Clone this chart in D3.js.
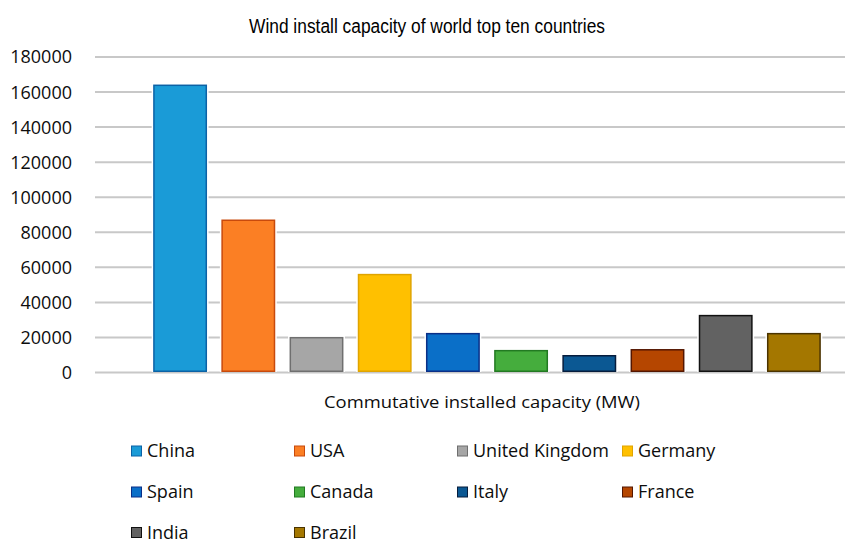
<!DOCTYPE html>
<html>
<head>
<meta charset="utf-8">
<script src="https://cdn.jsdelivr.net/npm/d3@7"></script>
<style>
  html, body { margin: 0; padding: 0; background: #fff; }
  svg { display: block; }
</style>
</head>
<body>
<svg id="chart" width="845" height="542"></svg>
<script>
//^^^^^^^^^^^^^^^^^^^^^^^^^^^^^^^^^^^^^^^^^^^^^^^^^^^^^^^^^^^^^^^^^^^^^^^^^^^^^^
// Data
//------------------------------------------------------------------------------
var countries = ["China", "USA", "United Kingdom", "Germany", "Spain",
                 "Canada", "Italy", "France", "India", "Brazil"];
var capacity = [164000, 87000, 20000, 56000, 22300,
                12600, 9700, 13100, 32600, 22300];
var yTicks = [0, 20000, 40000, 60000, 80000, 100000, 120000, 140000, 160000, 180000];
var fills = ["#1a9bd7", "#fb7f24", "#a6a6a6", "#ffc000", "#0a6fc8",
             "#45ad3d", "#0b5893", "#b54600", "#626262", "#a47700"];
var strokes = ["#0b62a6", "#c84a0c", "#6f6f6f", "#e0a400", "#0a2f87",
               "#227a22", "#061d3d", "#541600", "#111111", "#4a3300"];

var chartTitle = "Wind install capacity of world top ten countries",
    axisTitle = "Commutative installed capacity (MW)";

var svg = d3.select("#chart");

//^^^^^^^^^^^^^^^^^^^^^^^^^^^^^^^^^^^^^^^^^^^^^^^^^^^^^^^^^^^^^^^^^^^^^^^^^^^^^^
// Scales
//------------------------------------------------------------------------------
var x = d3.scaleBand()
    .domain(countries)
    .range([146, 828])
    .paddingInner(0.21)
    .paddingOuter(0.105);

var y = d3.scaleLinear()
    .domain([0, 180000])
    .range([372, 56.5]);

//^^^^^^^^^^^^^^^^^^^^^^^^^^^^^^^^^^^^^^^^^^^^^^^^^^^^^^^^^^^^^^^^^^^^^^^^^^^^^^
// Gridlines and tick labels
//------------------------------------------------------------------------------
var yAxis = svg.append("g")
    .attr("transform", "translate(95,0)")
    .call(d3.axisLeft(y).tickValues(yTicks).tickSize(-750).tickPadding(23)
        .tickFormat(d3.format("d")));

yAxis.select(".domain").remove();

yAxis.selectAll(".tick line")
    .attr("stroke", "#c8c8c8")
    .attr("stroke-width", 2);

yAxis.selectAll(".tick text")
    .attr("fill", "#0d0d0d")
    .attr("font-family", "'Open Sans', sans-serif")
    .attr("font-size", 18)
    .attr("dy", "0.36em");

//^^^^^^^^^^^^^^^^^^^^^^^^^^^^^^^^^^^^^^^^^^^^^^^^^^^^^^^^^^^^^^^^^^^^^^^^^^^^^^
// Bars, with a thin white halo so the gridlines stop short of them
//------------------------------------------------------------------------------
var bars = svg.append("g").selectAll("g")
    .data(countries)
    .enter().append("g");

bars.append("rect")
    .attr("x", function(d) { return x(d) - 1.5; })
    .attr("y", function(d, i) { return y(capacity[i]) - 1.5; })
    .attr("width", x.bandwidth() + 3)
    .attr("height", function(d, i) { return y(0) - y(capacity[i]) + 1.5; })
    .attr("fill", "#fff");

bars.append("rect")
    .attr("x", function(d) { return x(d) + 0.75; })
    .attr("y", function(d, i) { return y(capacity[i]) + 0.75; })
    .attr("width", x.bandwidth() - 1.5)
    .attr("height", function(d, i) { return y(0) - y(capacity[i]) - 1.5; })
    .attr("fill", function(d, i) { return fills[i]; })
    .attr("stroke", function(d, i) { return strokes[i]; })
    .attr("stroke-width", 1.5);

//^^^^^^^^^^^^^^^^^^^^^^^^^^^^^^^^^^^^^^^^^^^^^^^^^^^^^^^^^^^^^^^^^^^^^^^^^^^^^^
// Titles
//------------------------------------------------------------------------------
svg.append("text")
    .attr("x", 427)
    .attr("y", 33)
    .attr("text-anchor", "middle")
    .attr("font-family", "'Liberation Sans Narrow', 'Liberation Sans', Arial, sans-serif")
    .attr("font-size", 19.5)
    .attr("fill", "#000")
    .attr("textLength", 356)
    .attr("lengthAdjust", "spacingAndGlyphs")
    .text(chartTitle);

svg.append("text")
    .attr("x", 482)
    .attr("y", 408)
    .attr("text-anchor", "middle")
    .attr("font-family", "'Open Sans', sans-serif")
    .attr("font-size", 16.5)
    .attr("fill", "#0d0d0d")
    .attr("textLength", 316)
    .attr("lengthAdjust", "spacingAndGlyphs")
    .text(axisTitle);

//^^^^^^^^^^^^^^^^^^^^^^^^^^^^^^^^^^^^^^^^^^^^^^^^^^^^^^^^^^^^^^^^^^^^^^^^^^^^^^
// Legend: four columns, three rows
//------------------------------------------------------------------------------
var legendCols = [131, 294, 457, 622],
    legendRows = [451, 492, 532.5];

var legend = svg.append("g").selectAll("g")
    .data(countries)
    .enter().append("g")
    .attr("transform", function(d, i) {
        return "translate(" + legendCols[i % 4] + "," + legendRows[Math.floor(i / 4)] + ")";
    });

legend.append("rect")
    .attr("x", 0.5)
    .attr("y", -5)
    .attr("width", 10)
    .attr("height", 10)
    .attr("fill", function(d, i) { return fills[i]; })
    .attr("stroke", function(d, i) { return strokes[i]; })
    .attr("stroke-width", 1);

legend.append("text")
    .attr("x", 16)
    .attr("y", 0)
    .attr("dy", "0.36em")
    .attr("font-family", "'Open Sans', sans-serif")
    .attr("font-size", 18)
    .attr("fill", "#0d0d0d")
    .text(function(d) { return d; });
</script>
</body>
</html>
